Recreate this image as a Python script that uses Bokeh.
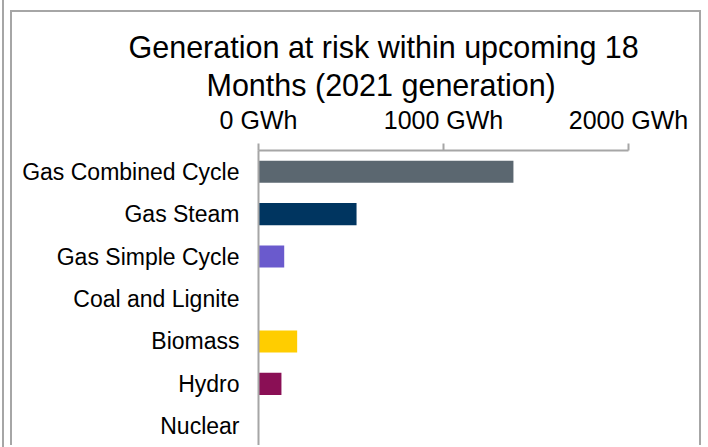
from bokeh.plotting import figure
from bokeh.models import FixedTicker, Title, FactorRange, Range1d, ColumnDataSource
from bokeh.embed import file_html
from bokeh.resources import INLINE

# ---- data ----
categories = ["Gas Combined Cycle", "Gas Steam", "Gas Simple Cycle",
              "Coal and Lignite", "Biomass", "Hydro", "Nuclear"]
generation_gwh = [1378, 530, 139, 0, 209, 124, 0]
bar_colors = ["#5b6770", "#003560", "#6a5acd", "#404040", "#ffcd00", "#8a0f55", "#e36c0a"]
tick_values = [0, 1000, 2000]
tick_labels = ["0 GWh", "1000 GWh", "2000 GWh"]
title_line1 = "Generation at risk within upcoming 18"
title_line2 = "Months (2021 generation)"

source = ColumnDataSource(dict(cat=categories, val=generation_gwh, color=bar_colors))

p = figure(width=691, height=435, output_backend="svg", toolbar_location=None,
           y_range=FactorRange(*list(reversed(categories)), range_padding=0),
           x_range=Range1d(0, 2000), x_axis_location="above", title=None,
           min_border_left=246, min_border_right=75, min_border_top=138,
           min_border_bottom=0)
p.styles = {"border": "2px solid #a6a6a6", "border-bottom": "none",
            "margin-left": "10px", "margin-top": "10px",
            "box-shadow": "4px 0 0 10px white, 2px 0 0 10px #a6a6a6"}

p.hbar(y="cat", right="val", left=0, height=0.52, fill_color="color",
       line_color=None, source=source)

p.outline_line_color = None
p.xgrid.visible = False
p.ygrid.visible = False
p.background_fill_color = "white"
p.border_fill_color = "white"

xa = p.xaxis[0]
xa.ticker = FixedTicker(ticks=tick_values)
xa.major_label_overrides = {v: l for v, l in zip(tick_values, tick_labels)}
xa.minor_tick_line_color = None
xa.major_tick_in = 0
xa.major_tick_out = 7
xa.major_tick_line_color = "#a6a6a6"
xa.major_tick_line_width = 2
xa.axis_line_color = "#a6a6a6"
xa.axis_line_width = 2
xa.major_label_text_font = "Liberation Sans"
xa.major_label_text_font_size = "25px"
xa.major_label_text_color = "black"
xa.major_label_standoff = 10

ya = p.yaxis[0]
ya.major_tick_line_color = None
ya.minor_tick_line_color = None
ya.major_tick_out = 0
ya.major_tick_in = 0
ya.axis_line_color = "#a6a6a6"
ya.axis_line_width = 2
ya.major_label_text_font = "Liberation Sans"
ya.major_label_text_font_size = "23px"
ya.major_label_text_color = "black"
ya.major_label_standoff = 19

t2 = Title(text=title_line2, align="left", offset=-52, text_font="Liberation Sans",
           text_font_size="30.5px", text_font_style="normal", text_color="black", standoff=2)
t1 = Title(text=title_line1, align="left", offset=-130, text_font="Liberation Sans",
           text_font_size="30.5px", text_font_style="normal", text_color="black", standoff=2)
p.add_layout(t2, "above")
p.add_layout(t1, "above")

open("out.html", "w").write(file_html(p, INLINE))
